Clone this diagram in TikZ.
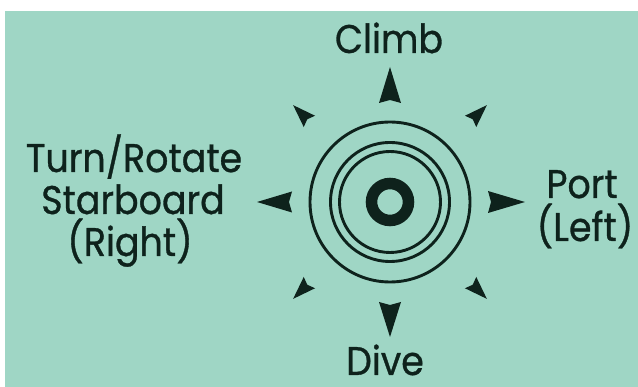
\documentclass[tikz,border=0pt]{standalone}
\usepackage{fontspec}
\setmainfont[FakeStretch=0.91,FakeBold=0.8]{Poppins}
\definecolor{bg}{HTML}{9FD6C5}
\definecolor{ink}{HTML}{0E221C}
\begin{document}
\begin{tikzpicture}[x=1pt,y=-1pt,
  lbl/.style={font=\fontsize{40}{42}\selectfont, text=ink, inner sep=0pt, anchor=base},
  ring/.style={draw=ink, line width=2.9pt}]
\useasboundingbox (0,0) rectangle (638,387);
\fill[white] (0,0) rectangle (638,387);
\fill[bg] (5,11) rectangle (638,387);
\coordinate (c) at (390,202);
\draw[ring] (c) circle (80pt);
\draw[ring] (c) circle (59.5pt);
\draw[ring] (c) circle (50.5pt);
\draw[ink, line width=11.5pt] (c) circle (18.5pt);
\foreach \ang/\rb/\rt/\hw in {0/98/135/11, 90/99/135/11, 180/98/133/10.5, 270/100/135/11,
                              45/114/137/8, 135/114/137/8, 225/114/137/8, 315/114/137/8}{
  \begin{scope}[shift={(c)}, rotate=\ang]
    \fill[ink] (\rt,0) -- (\rb,\hw) -- (\rb+3,0) -- (\rb,-\hw) -- cycle;
  \end{scope}
}
\node[lbl] (climb) at (389,53) {Climb};
\node[lbl, text depth=0pt] (dive) at (385,375) {Dive};
\node[lbl] (port) at (582,198) {Port};
\node[lbl] (left) at (585,241) {(Left)};
\node[lbl] (turn) at (134,172) {Turn/Rotate};
\node[lbl] (star) at (133,214) {Starboard};
\node[lbl] (right) at (130,256) {(Right)};
\end{tikzpicture}
\end{document}
